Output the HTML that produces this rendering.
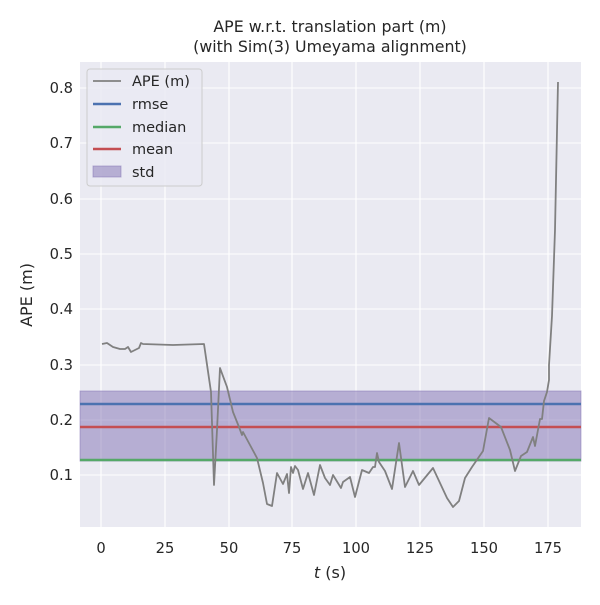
<!DOCTYPE html>
<html><head><style>body{margin:0;background:#fff}svg{font-family:"DejaVu Sans","Liberation Sans",sans-serif}</style></head><body>
<svg width="600" height="600" xmlns="http://www.w3.org/2000/svg">
<rect x="80" y="62" width="501" height="465" fill="#eaeaf2"/>
<g stroke="#fff" stroke-width="1.1">
<line x1="101" y1="62" x2="101" y2="527"/><line x1="165" y1="62" x2="165" y2="527"/><line x1="229" y1="62" x2="229" y2="527"/><line x1="292" y1="62" x2="292" y2="527"/><line x1="356" y1="62" x2="356" y2="527"/><line x1="420" y1="62" x2="420" y2="527"/><line x1="484" y1="62" x2="484" y2="527"/><line x1="548" y1="62" x2="548" y2="527"/>
<line x1="80" y1="88" x2="581" y2="88"/><line x1="80" y1="143" x2="581" y2="143"/><line x1="80" y1="199" x2="581" y2="199"/><line x1="80" y1="254" x2="581" y2="254"/><line x1="80" y1="309" x2="581" y2="309"/><line x1="80" y1="365" x2="581" y2="365"/><line x1="80" y1="420" x2="581" y2="420"/><line x1="80" y1="475" x2="581" y2="475"/>
</g>
<rect x="80" y="391" width="501" height="70" fill="#8172b3" fill-opacity="0.5" stroke="#8172b3" stroke-opacity="0.5"/>
<line x1="80" y1="404" x2="581" y2="404" stroke="#4c72b0" stroke-width="2.5"/>
<line x1="80" y1="460" x2="581" y2="460" stroke="#55a868" stroke-width="2.5"/>
<line x1="80" y1="427" x2="581" y2="427" stroke="#c44e52" stroke-width="2.5"/>
<polyline fill="none" stroke="#808080" stroke-width="1.8" stroke-linejoin="round" points="102,344 107,343 113,347 120,349 125,349 128,347 131,352 137,349 139,348 141,343 143,344 173,345 204,344 211,392 214,485 217,430 220,368 227,387 233,412 239,427 242,435 243,432 250,445 257,458 263,483 267,504 272,506 277,473 283,484 287,474 289,493 291,467 293,473 295,466 298,470 303,489 308,473 314,495 320,465 325,478 330,485 333,475 341,488 343,482 350,477 355,497 362,470 369,473 373,467 375,467 377,453 379,462 385,471 392,489 399,443 405,487 413,471 419,485 433,468 447,498 453,507 459,501 465,478 472,467 483,451 489,418 497,424 501,427 510,450 515,471 521,456 527,452 533,437 535,446 540,419 542,419 544,401 547,392 549,380 549,365 552,316 555,230 558,82"/>
<g font-size="14.7" fill="#262626" text-anchor="middle">
<text x="101" y="553">0</text><text x="165" y="553">25</text><text x="229" y="553">50</text><text x="292" y="553">75</text><text x="356" y="553">100</text><text x="420" y="553">125</text><text x="484" y="553">150</text><text x="548" y="553">175</text>
</g>
<g font-size="14.7" fill="#262626" text-anchor="end">
<text x="73" y="93">0.8</text><text x="73" y="148">0.7</text><text x="73" y="204">0.6</text><text x="73" y="259">0.5</text><text x="73" y="314">0.4</text><text x="73" y="370">0.3</text><text x="73" y="425">0.2</text><text x="73" y="480">0.1</text>
</g>
<text x="330" y="578" font-size="16" fill="#262626" text-anchor="middle"><tspan font-style="italic">t</tspan> (s)</text>
<text transform="translate(32,295) rotate(-90)" font-size="16" fill="#262626" text-anchor="middle">APE (m)</text>
<text x="330" y="32" font-size="15.8" fill="#262626" text-anchor="middle">APE w.r.t. translation part (m)</text>
<text x="330" y="52" font-size="15.8" fill="#262626" text-anchor="middle">(with Sim(3) Umeyama alignment)</text>
<rect x="87" y="69" width="115" height="117" rx="3" fill="#eaeaf2" fill-opacity="0.8" stroke="#ccc"/>
<line x1="93" y1="81" x2="121" y2="81" stroke="#808080" stroke-width="1.8"/>
<line x1="93" y1="104" x2="121" y2="104" stroke="#4c72b0" stroke-width="2.5"/>
<line x1="93" y1="127" x2="121" y2="127" stroke="#55a868" stroke-width="2.5"/>
<line x1="93" y1="149" x2="121" y2="149" stroke="#c44e52" stroke-width="2.5"/>
<rect x="93" y="166" width="28" height="11" fill="#8172b3" fill-opacity="0.5" stroke="#8172b3" stroke-opacity="0.5"/>
<g font-size="14.5" fill="#262626">
<text x="132" y="86">APE (m)</text><text x="132" y="109">rmse</text><text x="132" y="132">median</text><text x="132" y="154">mean</text><text x="132" y="177">std</text>
</g>
</svg>
</body></html>
